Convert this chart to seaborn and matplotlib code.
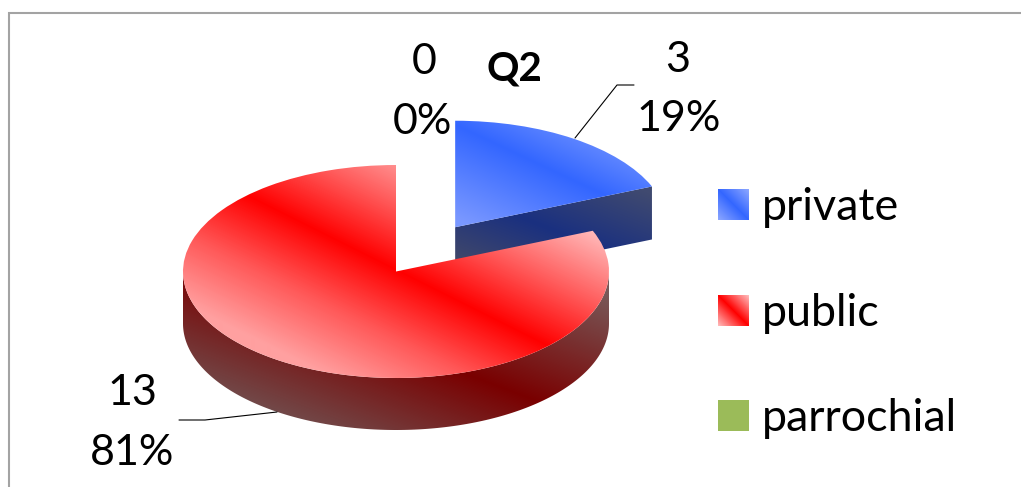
import numpy as np
import seaborn as sns
import matplotlib.pyplot as plt
from matplotlib.patches import Polygon, Rectangle
from matplotlib.transforms import Affine2D

sns.set_theme(style='white')
plt.rcParams['font.family'] = ['Lato', 'DejaVu Sans']

# data
categories = ['private', 'public', 'parrochial']
counts = [3, 13, 0]
chart_title = 'Q2'

W, H = 1021, 487
CX, CY, R = 396, H - 271.5, 213
SQUASH = 0.5
DEPTH = 53
FS = 31
explode = [0.5 * R, 0, 0]  # pie takes this in data units

fig = plt.figure(figsize=(W / 100, H / 100), dpi=100)
ax = fig.add_axes([0, 0, 1, 1])

wedges, _ = ax.pie(counts, explode=explode, startangle=90, counterclock=False,
                   center=(CX, CY), radius=R, wedgeprops={'linewidth': 0})
ax.set_aspect('auto')
ax.set_xlim(0, W)
ax.set_ylim(0, H)
ax.set_autoscale_on(False)
ax.axis('off')

squash = Affine2D().translate(-CX, -CY).scale(1, SQUASH).translate(CX, CY)
xx, yy = np.meshgrid(np.arange(W) + .5, np.arange(H) + .5)


def shade(patch, px, py, slope, reach, colors, z):
    # fill a patch with a diagonal band gradient, band given in image pixels
    d = ((yy - (H - py)) + slope * (xx - px)) / np.hypot(1, slope)
    cmap = sns.blend_palette(colors, as_cmap=True)
    im = ax.imshow(d, cmap=cmap, vmin=-reach, vmax=reach, origin='lower',
                   extent=(0, W, 0, H), aspect='auto', zorder=z, interpolation='bilinear')
    im.set_clip_path(patch)


def rim_points(w):
    # visible outer face of a wedge, empty when it does not reach the front
    t0, t1 = max(w.theta1, -180), min(w.theta2, 0)
    t = np.radians(np.linspace(t0, t1, 200))
    x = w.center[0] + w.r * np.cos(t)
    y = CY + (w.center[1] - CY) * SQUASH + w.r * SQUASH * np.sin(t)
    return x, y


for w in wedges:
    w.set_transform(squash + ax.transData)
    w.set_facecolor('none')

blue, red, green = wedges
green.set_visible(False)

# frame
ax.plot([9, 9, W], [0, H - 13, H - 13], color='#a3a3a3', lw=1.5, zorder=1, solid_joinstyle='miter')

# blue side: the cut face of the slice
t = np.radians(blue.theta1)
tip = (blue.center[0], CY + (blue.center[1] - CY) * SQUASH)
edge = (tip[0] + R * np.cos(t), tip[1] + R * SQUASH * np.sin(t))
blue_side = Polygon([tip, edge, (edge[0], edge[1] - DEPTH), (tip[0], tip[1] - DEPTH)],
                    fc='none', lw=0, transform=ax.transData)
ax.add_patch(blue_side)
shade(blue_side, 540, 225, .4, 70, ['#444a68', '#1a3080', '#404a70'], 2)
shade(blue, 530, 160, .47, 85, ['#7a98ff', '#3366ff', '#8ea8ff'], 3)

# red side and top
rx, ry = rim_points(red)
red_side = Polygon(np.r_[np.c_[rx, ry], np.c_[rx[::-1], ry[::-1] - DEPTH + 1]],
                   fc='none', lw=0, transform=ax.transData)
ax.add_patch(red_side)
shade(red_side, 463, 373, .38, 125, ['#705858', '#7a0000', '#785858'], 4)
shade(red, 236, 190, .5, 125, ['#ffa0a0', '#ff5858', '#ff0000', '#ff6060', '#ffbcbc'], 5)

# legend swatches
swatches = {
    'private': (['#8ea8ff', '#3366ff', '#8ea8ff'], 189),
    'public': (['#ffc0c0', '#ff0000', '#ffc0c0'], 295),
}
for name, base in zip(categories, [220, 326, 431]):
    top = base - 31
    rect = Rectangle((718, H - base), 31, 31, fc='#9bbb59', lw=0, zorder=6)
    ax.add_patch(rect)
    if name in swatches:
        shade(rect, 733.5, top + 15.5, 1, 22, swatches[name][0], 7)
    ax.text(762, H - base, name, fontsize=32.3, color='black', va='baseline', ha='left', zorder=8)

# data labels
total = sum(counts)
label_pos = [((678, 72), (679, 131)), ((132, 405), (132, 465)), ((424, 74), (422, 134))]
for n, (p1, p2) in zip(counts, label_pos):
    ax.text(p1[0], H - p1[1], str(n), fontsize=FS, ha='center', va='baseline', color='black', zorder=8)
    ax.text(p2[0], H - p2[1], f'{round(100 * n / total)}%', fontsize=FS, ha='center', va='baseline',
            color='black', zorder=8)

# leader lines
ax.plot([575, 617, 634], [H - 138, H - 85, H - 85], color='black', lw=.8, zorder=8)
ax.plot([277, 205, 179], [H - 412, H - 420, H - 420], color='black', lw=.8, zorder=8)

ax.text(514, H - 81, chart_title, fontsize=29, fontweight='bold', ha='center', va='baseline',
        color='black', zorder=8)

fig.savefig('out.png', dpi=100)
